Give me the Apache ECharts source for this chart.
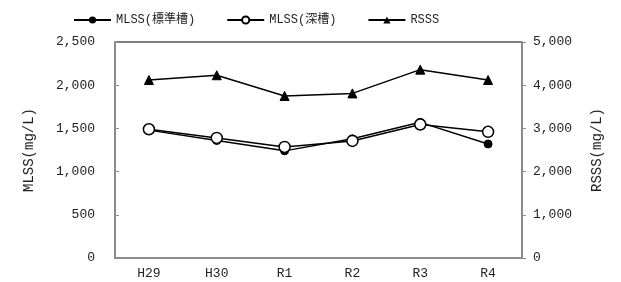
<!DOCTYPE html>
<html>
<head>
<meta charset="utf-8">
<script src="https://cdn.jsdelivr.net/npm/echarts@6/dist/echarts.min.js"></script>
<style>
  html, body { margin: 0; padding: 0; background: #fff; }
  #chart { width: 621px; height: 282px; }
</style>
</head>
<body>
<div id="chart"></div>
<script>
// 年度カテゴリと各系列の値
var years = ['H29', 'H30', 'R1', 'R2', 'R3', 'R4']
var mlssStd = [1480, 1360, 1240, 1380, 1570, 1320]
var mlssDeep = [1490, 1390, 1285, 1355, 1545, 1460]
var rsss = [4120, 4230, 3750, 3810, 4360, 4120]

var FONT = "'Liberation Mono', 'Noto Sans CJK JP', monospace"
var AXIS_GRAY = '#8c8c8c'

var chart = echarts.init(document.getElementById('chart'))

var numFmt = function (v) {
  return v.toLocaleString('en-US')
}

chart.setOption({
  animation: false,
  textStyle: { fontFamily: FONT, color: '#222' },
  legend: {
    left: 68,
    top: 9,
    itemWidth: 37,
    itemHeight: 9,
    itemGap: 31,
    textStyle: { fontFamily: FONT, fontSize: 12, color: '#222' },
    data: ['MLSS(標準槽)', 'MLSS(深槽)', 'RSSS']
  },
  grid: {
    left: 115,
    right: 99,
    top: 42,
    bottom: 24,
    show: true,
    borderColor: '#000',
    borderWidth: 1
  },
  xAxis: {
    type: 'category',
    data: years,
    boundaryGap: true,
    axisLine: { lineStyle: { color: AXIS_GRAY, width: 2 } },
    axisTick: { inside: true, length: 3, lineStyle: { color: AXIS_GRAY } },
    axisLabel: { fontFamily: FONT, fontSize: 13, color: '#222', margin: 9 }
  },
  yAxis: [
    {
      type: 'value',
      min: 0,
      max: 2500,
      interval: 500,
      name: 'MLSS(mg/L)',
      nameLocation: 'middle',
      nameGap: 79,
      nameTextStyle: { fontFamily: FONT, fontSize: 14, color: '#222' },
      axisLine: { show: true, lineStyle: { color: AXIS_GRAY, width: 2 } },
      axisTick: { show: true, inside: true, length: 4, lineStyle: { color: AXIS_GRAY } },
      axisLabel: { fontFamily: FONT, fontSize: 13, color: '#222', margin: 20, formatter: numFmt },
      splitLine: { show: false }
    },
    {
      type: 'value',
      min: 0,
      max: 5000,
      interval: 1000,
      name: 'RSSS(mg/L)',
      nameLocation: 'middle',
      nameGap: 68,
      nameTextStyle: { fontFamily: FONT, fontSize: 14, color: '#222' },
      axisLine: { show: true, lineStyle: { color: AXIS_GRAY, width: 2 } },
      axisTick: { show: true, inside: false, length: 4, lineStyle: { color: AXIS_GRAY } },
      axisLabel: { fontFamily: FONT, fontSize: 13, color: '#222', margin: 11, formatter: numFmt },
      splitLine: { show: false }
    }
  ],
  series: [
    {
      name: 'MLSS(標準槽)',
      type: 'line',
      yAxisIndex: 0,
      data: mlssStd,
      symbol: 'circle',
      symbolSize: 8,
      lineStyle: { color: '#000', width: 1.5 },
      itemStyle: { color: '#000', borderColor: '#000' },
      z: 2
    },
    {
      name: 'MLSS(深槽)',
      type: 'line',
      yAxisIndex: 0,
      data: mlssDeep,
      symbol: 'circle',
      symbolSize: 11,
      lineStyle: { color: '#000', width: 1.5 },
      itemStyle: { color: '#fff', borderColor: '#000', borderWidth: 1.5 },
      z: 3
    },
    {
      name: 'RSSS',
      type: 'line',
      yAxisIndex: 1,
      data: rsss,
      symbol: 'triangle',
      symbolSize: 9,
      lineStyle: { color: '#000', width: 1.5 },
      itemStyle: { color: '#000', borderColor: '#000' },
      z: 2
    }
  ]
})
</script>
</body>
</html>
